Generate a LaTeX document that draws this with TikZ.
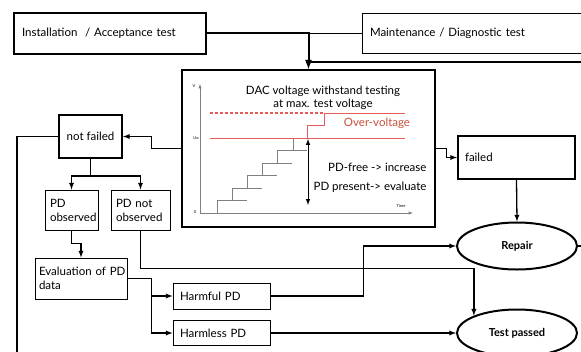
\documentclass[tikz,border=0pt]{standalone}
\usepackage{fontspec}
\setmainfont{Lato}
\usetikzlibrary{shapes.geometric}
\definecolor{limit}{RGB}{232,90,90}
\definecolor{overtext}{RGB}{200,80,60}
\tikzstyle{thinbox} = [draw, rectangle, line width=1pt, inner sep=0pt, inner xsep=6pt, align=left, font=\fontsize{11.5}{14}\selectfont]
\tikzstyle{thickbox} = [thinbox, line width=2pt]
\tikzstyle{oval} = [draw, ellipse, line width=2pt, minimum width=120pt, minimum height=47pt, font=\fontsize{11}{13}\selectfont\bfseries]
\tikzstyle{link} = [line width=1.3pt, ->]
\tikzstyle{axislabel} = [inner sep=0pt, font=\fontsize{4}{5}\selectfont]
\tikzstyle{plottext} = [font=\fontsize{11.5}{13}\selectfont]

\begin{document}
\begin{tikzpicture}[x=1pt, y=-1pt, >=latex]
	\useasboundingbox (0,0) rectangle (581,351);
	\node[thickbox, text width=176pt, inner xsep=8pt, minimum height=41pt] (inst) at (110,33) {Installation~ / Acceptance test};
	\node[thinbox, text width=212pt, inner xsep=8pt, minimum height=40pt] (maint) at (476,33) {Maintenance / Diagnostic test};
	\node[draw, rectangle, line width=2.5pt, minimum width=253pt, minimum height=157pt] (dac) at (308.5,148.5) {};
	\node[thickbox, align=center, minimum width=63pt, minimum height=43pt] (notfailed) at (90.5,136.5) {not failed};
	\node[thinbox, text width=43pt, inner xsep=5pt, minimum height=40pt] (pdobs) at (71.5,210) {PD\\observed};
	\node[thinbox, text width=49pt, inner xsep=5pt, minimum height=40pt] (pdnot) at (140.5,210) {PD not\\observed};
	\node[thinbox, text width=84pt, inner xsep=4pt, minimum height=41pt] (eval) at (81,278.5) {Evaluation~of~PD\\ data};
	\node[thinbox, text width=83pt, inner xsep=7pt, minimum height=26pt] (harmful) at (221.5,296) {Harmful PD};
	\node[thinbox, text width=83pt, inner xsep=7pt, minimum height=25pt] (harmless) at (221.5,333) {Harmless PD};
	\node[thickbox, text width=103pt, inner xsep=7pt, minimum height=43pt] (failed) at (516.5,157.5) {failed};
	\node[oval] (repair) at (517,246) {Repair};
	\node[oval] (passed) at (517,333) {Test passed};
	\coordinate (back) at (600,62);
	\coordinate (loop) at (17,370);

	\draw[gray, line width=0.5pt, ->] (200,213) -- (200,84);
	\draw[gray, line width=0.5pt, ->] (200,213) -- (413,213);
	\node[axislabel] at (194,86) {V};
	\node[axislabel] at (196,138) {Uo};
	\node[axislabel] at (195,212) {0};
	\node[axislabel] at (401,206) {Time};
	\foreach \x/\ya/\yb in {217/213/200, 232/200/188, 247/188/175, 262/175/163, 277/163/150, 293/150/138}
		\draw[gray, line width=0.6pt] (\x,\ya) -- (\x,\yb) -- ++(30,0);
	\draw[limit, line width=1.1pt, dash pattern=on 3pt off 2pt] (210,113) -- (324,113);
	\draw[limit, line width=0.9pt] (324,113) -- (405,113);
	\draw[limit, line width=0.9pt] (210,138) -- (405,138);
	\draw[limit, line width=0.9pt] (307,138) -- (307,125) -- (324,125) -- (324,113);
	\draw[<->, line width=1pt] (308,139) -- (308,205);
	\node[plottext, align=center] (title) at (323,98) {DAC voltage withstand testing\\at max. test voltage};
	\node[plottext, text=overtext] (over) at (377,123) {Over-voltage};
	\node[plottext, anchor=east] (pdfree) at (430,167) {PD-free -> increase};
	\node[plottext, anchor=east] (pdpres) at (430,187) {PD present-> evaluate};

	\draw[line width=2pt, ->] (inst.east) -- (inst.east -| dac.north) -- (dac.north);
	\draw[line width=1pt] (maint.west) -- (maint.west -| dac.north);
	\draw[link] (repair.east) -| (back) -- (back -| dac.north) -- (dac.north);
	\draw[link] (dac.west) -- ++(-29,0) |- (notfailed.east);
	\draw[link] (dac.east) -- ++(10,0) |- (failed.west);
	\draw[link] (failed.south) -- (repair.north);
	\draw[line width=1.3pt] (notfailed.west) -| (loop);
	\draw[link] (notfailed.south) -- ++(0,17) -| (pdobs.north);
	\draw[link] (notfailed.south) -- ++(0,17) -| (pdnot.north);
	\draw[link] (pdobs.south) -- ++(0,13) -| (eval.north);
	\draw[link] (eval.east) -- ++(24,0) |- (harmful.west);
	\draw[link] (eval.east) -- ++(24,0) |- (harmless.west);
	\draw[link] (harmful.east) -- ++(93,0) |- (repair.west);
	\draw[link] (harmless.east) -- (passed.west);
	\draw[link] (pdnot.south) -- ++(0,38) -| (passed.north west);
\end{tikzpicture}
\end{document}
